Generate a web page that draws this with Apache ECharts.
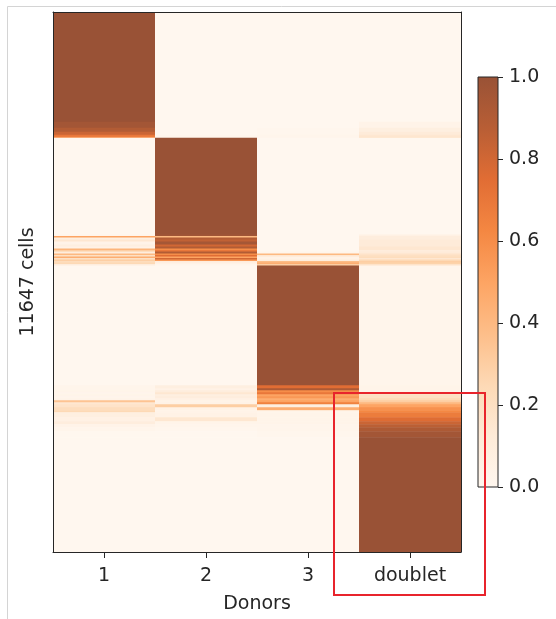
<!DOCTYPE html>
<html>
<head>
<meta charset="utf-8">
<script src="https://cdn.jsdelivr.net/npm/echarts@6/dist/echarts.min.js"></script>
<style>
html,body{margin:0;padding:0;background:#fff;}
#chart{width:556px;height:619px;}
</style>
</head>
<body>
<div id="chart"></div>
<script>
// ---- data ----
const donors = ['1', '2', '3', 'doublet'];
const totalCells = 11647;
// row band edges (cell index, top to bottom)
const bandEdges = [0, 2368, 2497, 2584, 2648, 2691, 2713,
  4801, 4833, 4866, 4909, 4952, 5016, 5060, 5103, 5135, 5167, 5210, 5243, 5275, 5307, 5339, 5372, 5404, 5436, 5469,
  8052, 8117, 8160, 8203, 8246, 8289, 8332, 8375, 8418, 8461, 8526, 8590, 8633, 8741, 8827, 8892, 8956, 9043, 9172, 11647];
// probability per band for each donor column
const donor1Prob = [1, 0.96, 0.9, 0.82, 0.7, 0.6,
  0, 0.02, 0.5, 0.08, 0.15, 0.04, 0.08, 0.05, 0.42, 0.3, 0.1, 0.4, 0.2, 0.45, 0.2, 0.3, 0.22, 0.25, 0.1,
  0, 0.02, 0.02, 0.03, 0.02, 0.03, 0.02, 0.04, 0.35, 0.15, 0.18, 0.22, 0.25, 0.08, 0.06, 0.1, 0.04, 0.02, 0, 0];
const donor2Prob = [0, 0, 0, 0, 0.01, 0.02,
  1, 0.97, 0.4, 0.9, 0.85, 0.95, 0.8, 0.9, 0.6, 0.7, 0.9, 0.6, 0.75, 0.5, 0.8, 0.55, 0.1, 0.05, 0.02,
  0, 0.08, 0.05, 0.1, 0.15, 0.08, 0.1, 0.06, 0.04, 0.05, 0.3, 0.05, 0.04, 0.05, 0.15, 0.03, 0.02, 0.01, 0, 0];
const donor3Prob = [0, 0, 0.01, 0.01, 0.02, 0.02,
  0, 0, 0, 0, 0, 0, 0, 0, 0, 0, 0.02, 0.4, 0.15, 0.05, 0.05, 0.1, 0.38, 0.45, 0.3,
  1, 0.75, 0.92, 0.6, 0.7, 0.5, 0.55, 0.45, 0.5, 0.65, 0.08, 0.45, 0.03, 0.03, 0.03, 0.03, 0.02, 0.02, 0.01, 0];
const doubletProb = [0, 0.04, 0.08, 0.12, 0.15, 0.18,
  0, 0.06, 0.1, 0.1, 0.12, 0.12, 0.12, 0.15, 0.15, 0.1, 0.12, 0.18, 0.2, 0.22, 0.15, 0.25, 0.3, 0.28, 0.18,
  0.02, 0.03, 0.03, 0.04, 0.15, 0.2, 0.2, 0.25, 0.3, 0.4, 0.5, 0.58, 0.62, 0.68, 0.76, 0.82, 0.87, 0.92, 0.96, 1];
const colorbarTicks = [0, 0.2, 0.4, 0.6, 0.8, 1.0];

// Oranges colormap at alpha 0.8 over white
const oranges = ['#fff7ef', '#feebd8', '#fdd9b5', '#fdbe89', '#fda463', '#f48742', '#e16d34', '#b85e35', '#995236'];

const columns = [donor1Prob, donor2Prob, donor3Prob, doubletProb];
const cells = [];
for (let i = 0; i < bandEdges.length - 1; i++) {
  for (let j = 0; j < columns.length; j++) {
    cells.push([j, bandEdges[i], bandEdges[i + 1], columns[j][i]]);
  }
}

const textColor = '#262626';
const fontFamily = 'DejaVu Sans';
const fs = 19;

const chart = echarts.init(document.getElementById('chart'), null, {renderer: 'canvas'});
const gradStops = oranges.map((c, k) => ({offset: k / (oranges.length - 1), color: oranges[oranges.length - 1 - k]}));

chart.setOption({
  animation: false,
  backgroundColor: '#ffffff',
  textStyle: {fontFamily: fontFamily, color: textColor},
  grid: [
    {left: 53, top: 12, width: 408, height: 541},
    {left: 478, top: 77, width: 20, height: 410}
  ],
  xAxis: [
    {
      gridIndex: 0, type: 'category', data: donors, position: 'bottom', z: 10,
      axisLine: {show: true, onZero: false, lineStyle: {color: textColor, width: 1}},
      axisTick: {show: true, alignWithLabel: true, length: 6, lineStyle: {color: textColor}},
      axisLabel: {fontSize: fs, color: textColor, fontFamily: fontFamily, margin: 15},
      splitLine: {show: false},
      name: 'Donors', nameLocation: 'middle', nameGap: 43,
      nameTextStyle: {fontSize: fs, color: textColor, fontFamily: fontFamily}
    },
    {
      gridIndex: 0, type: 'category', data: donors, position: 'top', z: 10,
      axisLine: {show: true, onZero: false, lineStyle: {color: textColor, width: 1}},
      axisTick: {show: false}, axisLabel: {show: false}, splitLine: {show: false}
    },
    {
      gridIndex: 1, type: 'value', min: 0, max: 1, show: false
    }
  ],
  yAxis: [
    {
      gridIndex: 0, type: 'value', min: 0, max: totalCells, inverse: true, position: 'left', z: 10,
      axisLine: {show: true, onZero: false, lineStyle: {color: textColor, width: 1}},
      axisTick: {show: false}, axisLabel: {show: false}, splitLine: {show: false},
      name: totalCells + ' cells', nameLocation: 'middle', nameGap: 15, nameRotate: 90,
      nameTextStyle: {fontSize: fs, color: textColor, fontFamily: fontFamily}
    },
    {
      gridIndex: 0, type: 'value', min: 0, max: totalCells, inverse: true, position: 'right', z: 10,
      axisLine: {show: true, onZero: false, lineStyle: {color: textColor, width: 1}},
      axisTick: {show: false}, axisLabel: {show: false}, splitLine: {show: false}
    },
    {
      gridIndex: 1, type: 'value', min: 0, max: 1, interval: 0.2, position: 'right', z: 10,
      axisLine: {show: false, onZero: false},
      axisTick: {show: true, length: 5, lineStyle: {color: textColor}},
      axisLabel: {fontSize: fs, color: textColor, fontFamily: fontFamily, margin: 11,
        formatter: v => {
          const k = colorbarTicks.findIndex(t => Math.abs(t - v) < 1e-6);
          return k >= 0 ? colorbarTicks[k].toFixed(1) : '';
        }},
      splitLine: {show: false}
    }
  ],
  visualMap: {
    type: 'continuous', show: false, min: 0, max: 1, dimension: 3, seriesIndex: 0,
    inRange: {color: oranges}
  },
  series: [
    {
      type: 'custom', xAxisIndex: 0, yAxisIndex: 0,
      data: cells,
      renderItem: function (params, api) {
        const x = api.value(0);
        const s = api.coord([x, api.value(1)]);
        const e = api.coord([x, api.value(2)]);
        const w = api.size([1, 0])[0];
        return {
          type: 'rect',
          shape: {x: s[0] - w / 2, y: s[1], width: w, height: e[1] - s[1] + 0.6},
          style: {fill: api.visual('color')}
        };
      }
    },
    {
      type: 'custom', xAxisIndex: 2, yAxisIndex: 2,
      data: [[0, 0, 1, 1]],
      renderItem: function (params, api) {
        const tl = api.coord([api.value(0), api.value(3)]);
        const br = api.coord([api.value(2), api.value(1)]);
        return {
          type: 'rect',
          shape: {x: tl[0], y: tl[1], width: br[0] - tl[0], height: br[1] - tl[1]},
          style: {
            fill: new echarts.graphic.LinearGradient(0, 0, 0, 1, gradStops),
            stroke: textColor, lineWidth: 1
          }
        };
      }
    }
  ],
  graphic: [
    {type: 'line', shape: {x1: 7.5, y1: 6.5, x2: 556, y2: 6.5}, style: {stroke: '#d4d4d4', lineWidth: 1}, z: 1},
    {type: 'line', shape: {x1: 7.5, y1: 6.5, x2: 7.5, y2: 619}, style: {stroke: '#d4d4d4', lineWidth: 1}, z: 1},
    {type: 'rect', shape: {x: 334, y: 393, width: 151, height: 202},
      style: {fill: 'none', stroke: '#e8242c', lineWidth: 2}, z: 100}
  ]
});
</script>
</body>
</html>
